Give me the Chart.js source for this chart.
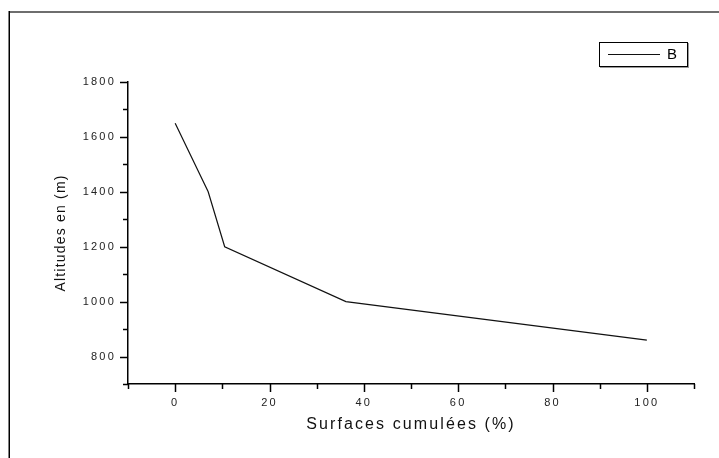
<!DOCTYPE html>
<html><head><meta charset="utf-8">
<script src="https://cdn.jsdelivr.net/npm/chart.js@4"></script>
<style>html,body{margin:0;padding:0;background:#fff}canvas{display:block}</style>
</head><body>
<canvas id="c" width="719" height="458"></canvas>
<script>
const seriesName = 'B';
const surfacesCumulees = [0, 7, 10.5, 36.2, 100];
const altitudes = [1650, 1400, 1200, 1000, 860];
const xTickLabels = [0, 20, 40, 60, 80, 100];
const yTickLabels = [800, 1000, 1200, 1400, 1600, 1800];
const xTitle = 'Surfaces cumulées (%)';
const yTitle = 'Altitudes en (m)';

const FONT = "'Liberation Sans', Arial, sans-serif";

function spacedTitle(scale, spacing) {
  if (scale._spacedTitle) return;
  const orig = scale.drawTitle.bind(scale);
  scale.drawTitle = function () {
    const c = this.ctx;
    const prev = c.letterSpacing;
    c.letterSpacing = spacing;
    orig();
    c.letterSpacing = prev;
  };
  scale._spacedTitle = true;
}

const framePlugin = {
  id: 'frame',
  beforeDraw(chart) {
    const c = chart.ctx;
    c.save();
    c.fillStyle = '#fff';
    c.fillRect(0, 0, chart.width, chart.height);
    c.strokeStyle = '#6e6e6e';
    c.lineWidth = 2;
    c.beginPath(); c.moveTo(9, 12); c.lineTo(chart.width, 12); c.stroke();
    c.strokeStyle = '#000';
    c.lineWidth = 1.5;
    c.beginPath(); c.moveTo(9.25, 11); c.lineTo(9.25, chart.height); c.stroke();
    c.restore();
    c.letterSpacing = '2.2px';
  },
  afterDraw(chart) {
    const c = chart.ctx;
    c.save();
    c.letterSpacing = '0px';
    const xs = chart.scales.x, ys = chart.scales.y;
    c.strokeStyle = '#000';
    c.lineWidth = 1.5;
    xs.ticks.forEach(t => {
      const px = Math.round(xs.getPixelForValue(t.value)) + 0.5;
      const len = xTickLabels.includes(t.value) ? 8 : 5;
      c.beginPath(); c.moveTo(px, xs.top); c.lineTo(px, xs.top + len); c.stroke();
    });
    ys.ticks.forEach(t => {
      const py = Math.round(ys.getPixelForValue(t.value)) + 0.5;
      const len = yTickLabels.includes(t.value) ? 8 : 5;
      c.beginPath(); c.moveTo(ys.right, py); c.lineTo(ys.right - len, py); c.stroke();
    });
    const ds = chart.data.datasets[0];
    const bx = 599, by = 42, bw = 88, bh = 24;
    c.fillStyle = '#9a9a9a';
    c.fillRect(bx + 1, by + 1, bw + 1, bh + 1);
    c.fillStyle = '#fff';
    c.fillRect(bx, by, bw, bh);
    c.strokeStyle = '#000';
    c.lineWidth = 1;
    c.strokeRect(bx + 0.5, by + 0.5, bw, bh);
    c.strokeStyle = ds.borderColor;
    c.lineWidth = 1;
    c.beginPath(); c.moveTo(bx + 9, by + 12.5); c.lineTo(bx + 61, by + 12.5); c.stroke();
    c.fillStyle = '#000';
    c.font = '15px ' + FONT;
    c.textBaseline = 'middle';
    c.textAlign = 'left';
    c.fillText(ds.label, bx + 68, by + 13);
    c.restore();
  }
};

new Chart(document.getElementById('c'), {
  type: 'scatter',
  data: {
    datasets: [{
      label: seriesName,
      data: surfacesCumulees.map((x, i) => ({ x: x, y: altitudes[i] })),
      showLine: true,
      borderColor: '#111',
      borderWidth: 1.2,
      pointRadius: 0,
      tension: 0,
      fill: false
    }]
  },
  options: {
    responsive: false,
    devicePixelRatio: 1,
    animation: false,
    events: [],
    layout: { padding: { left: 48, top: 82, right: 25, bottom: 0 } },
    plugins: { legend: { display: false }, tooltip: { enabled: false } },
    scales: {
      x: {
        type: 'linear',
        position: 'bottom',
        min: -10, max: 110,
        afterFit(s) { s.height = 74; spacedTitle(s, '2.1px'); },
        grid: { display: false, drawTicks: false },
        border: { display: true, color: '#000', width: 1.5 },
        ticks: {
          stepSize: 10,
          autoSkip: false,
          maxRotation: 0,
          padding: 12,
          color: '#222',
          font: { family: FONT, size: 11 },
          callback: v => xTickLabels.includes(v) ? String(v) : ''
        },
        title: {
          display: true, text: xTitle, color: '#111',
          font: { family: FONT, size: 16 },
          padding: { top: 0, bottom: 24 }
        }
      },
      y: {
        type: 'linear',
        position: 'left',
        min: 700, max: 1800,
        afterFit(s) { s.width = 80; spacedTitle(s, '1.2px'); },
        grid: { display: false, drawTicks: false },
        border: { display: true, color: '#000', width: 1.5 },
        ticks: {
          stepSize: 100,
          autoSkip: false,
          padding: 12,
          color: '#222',
          font: { family: FONT, size: 11 },
          callback: v => yTickLabels.includes(v) ? String(v) : ''
        },
        title: {
          display: true, text: yTitle, color: '#111',
          font: { family: FONT, size: 14 },
          padding: { top: 5, bottom: 0 }
        }
      }
    }
  },
  plugins: [framePlugin]
});
</script>
</body></html>
